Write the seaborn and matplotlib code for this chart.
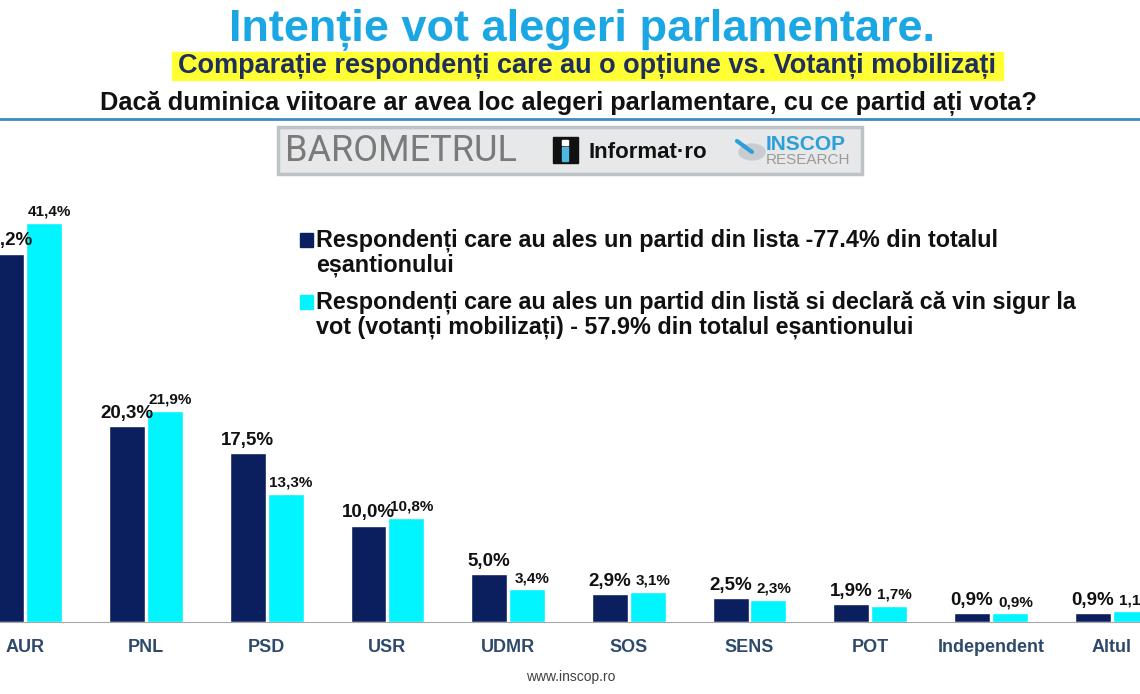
import matplotlib
matplotlib.use("Agg")
import matplotlib.pyplot as plt
from matplotlib.patches import Rectangle, Circle
from matplotlib.lines import Line2D
import pandas as pd
import seaborn as sns

partide = ['AUR', 'PNL', 'PSD', 'USR', 'UDMR', 'SOS', 'SENS', 'POT', 'Independent', 'Altul']
optiune = [38.2, 20.3, 17.5, 10.0, 5.0, 2.9, 2.5, 1.9, 0.9, 0.9]
mobilizati = [41.4, 21.9, 13.3, 10.8, 3.4, 3.1, 2.3, 1.7, 0.9, 1.1]
serii = ['Respondenți care au ales un partid din lista -77.4% din totalul\neșantionului',
         'Respondenți care au ales un partid din listă si declară că vin sigur la\nvot (votanți mobilizați) - 57.9% din totalul eșantionului']

navy = '#0B1F5E'
cyan = '#00F5FF'

df = pd.DataFrame({
    'partid': partide * 2,
    'procent': optiune + mobilizati,
    'serie': [serii[0]] * len(partide) + [serii[1]] * len(partide),
})

sns.set_style('white')
plt.rcParams['font.family'] = ['Liberation Sans', 'DejaVu Sans']

W, H = 1140, 694
fig = plt.figure(figsize=(W / 100, H / 100), dpi=100)

def fx(px):
    return px / W

def fy(py):
    return 1 - py / H

# axes: baseline at y=622px, 9.64 px per percent
ax = fig.add_axes([0, 72 / H, 1, 434 / H])
sns.barplot(data=df, x='partid', y='procent', hue='serie', hue_order=serii,
            palette=[navy, cyan], width=0.627, gap=0.05, saturation=1,
            legend=False, ax=ax)

for s in ['top', 'left', 'right']:
    ax.spines[s].set_visible(False)
ax.spines['bottom'].set_color('#A6A6A6')
ax.set_yticks([])
ax.set_xlabel('')
ax.set_ylabel('')
ax.tick_params(axis='x', which='major', length=0, pad=12)
ax.set_xticks([i + 0.5 for i in range(-1, len(partide))], minor=True)
ax.tick_params(axis='x', which='minor', length=5, color='#A6A6A6', width=1)
for lab in ax.get_xticklabels():
    lab.set_fontsize(13)
    lab.set_fontweight('bold')
    lab.set_color('#2E4A6B')

# chart is cropped on both sides, as in the original picture
step = 120.7
ax.set_xlim(-25.3 / step, (W - 25.3) / step)
ax.set_ylim(0, 45)

def fmt(v):
    return f'{v:.1f}%'.replace('.', ',')

ax.bar_label(ax.containers[0], labels=[fmt(v) for v in optiune], padding=3,
             fontsize=13.5, fontweight='bold', color='#111111')
lbl2 = ax.bar_label(ax.containers[1], labels=[fmt(v) for v in mobilizati], padding=3,
                    fontsize=11, fontweight='bold', color='#111111')
for t in lbl2:
    t.xyann = (4, 3)

# legend drawn by hand so the square sits on the first line
for ysq, col, txt in [(233, navy, serii[0]), (295, cyan, serii[1])]:
    fig.patches.append(Rectangle((fx(300), fy(ysq + 14)), 13 / W, 14 / H,
                                 transform=fig.transFigure, color=col))
    fig.text(fx(316), fy(ysq - 5), txt, fontsize=16.8, fontweight='bold',
             va='top', ha='left', linespacing=1.13, color='#111111')

# header
fig.text(fx(582), fy(30), 'Intenție vot alegeri parlamentare.',
         fontsize=32.5, fontweight='bold', color='#1AA7E4', ha='center', va='center')
fig.patches.append(Rectangle((fx(172), fy(80)), 831 / W, 28 / H,
                             transform=fig.transFigure, color='#FFFF33', zorder=0))
fig.text(fx(587), fy(66), 'Comparație respondenți care au o opțiune vs. Votanți mobilizați',
         fontsize=19.5, fontweight='bold', color='#1F2F5A', ha='center', va='center')
fig.text(fx(568), fy(103), 'Dacă duminica viitoare ar avea loc alegeri parlamentare, cu ce partid ați vota?',
         fontsize=18.3, fontweight='bold', color='#111111', ha='center', va='center')
fig.lines.append(Line2D([0, 1], [fy(119), fy(119)], transform=fig.transFigure,
                        color='#3D8BC4', lw=2))

# logo strip
fig.patches.append(Rectangle((fx(278), fy(174)), 584 / W, 47 / H, transform=fig.transFigure,
                             facecolor='#E6E8EA', edgecolor='#BDC2C7', lw=2.5))
fig.text(fx(285), fy(151), 'BAROMETRUL', family=['Roboto', 'Liberation Sans'],
         fontweight='normal', fontsize=26, color='#7A7A7A', ha='left', va='center')
fig.patches.append(Rectangle((fx(553), fy(163)), 25 / W, 26 / H,
                             transform=fig.transFigure, color='#111111'))
fig.patches.append(Rectangle((fx(562), fy(161)), 6 / W, 14 / H,
                             transform=fig.transFigure, color='#4FB8E0'))
fig.patches.append(Rectangle((fx(562), fy(145)), 6 / W, 5 / H,
                             transform=fig.transFigure, color='white'))
fig.text(fx(588), fy(153), 'Informat·ro', fontsize=16, fontweight='bold',
         color='#111111', ha='left', va='center')
fig.patches.append(Circle((fx(752), fy(152)), 13 / W, transform=fig.transFigure,
                          color='#C8CCD0'))
fig.lines.append(Line2D([fx(737), fx(752)], [fy(141), fy(152)],
                        transform=fig.transFigure, color='#2B9FD9', lw=3))
fig.text(fx(766), fy(145), 'INSCOP', fontsize=15, fontweight='bold', color='#2B9FD9',
         ha='left', va='center')
fig.text(fx(766), fy(160), 'RESEARCH', fontsize=11, color='#9A9A9A',
         ha='left', va='center')

fig.text(fx(571), fy(677), 'www.inscop.ro', fontsize=10, color='#404040',
         ha='center', va='center')

fig.savefig('out.png', dpi=100)
